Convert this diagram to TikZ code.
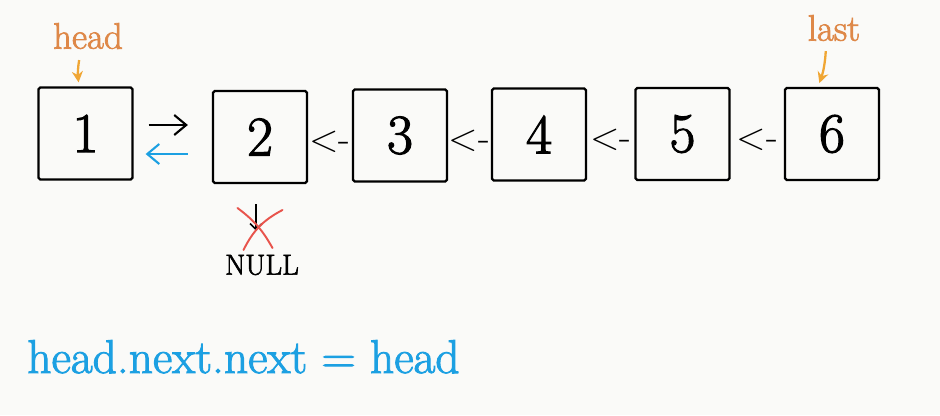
\documentclass[tikz,border=0pt]{standalone}
\usepackage{fontspec}
\newfontfamily\inkfont[FakeBold=2]{Latin Modern Roman}
\usepackage{xcolor}
\usepackage{tikz}
\usetikzlibrary{arrows.meta, positioning, calc}
\definecolor{ref_blue}{RGB}{28, 160, 226}
\definecolor{ptr_orange}{RGB}{222, 136, 72}
\definecolor{ptr_arrow}{RGB}{240, 166, 52}
\definecolor{cross_red}{RGB}{232, 84, 76}
\definecolor{bg_paper}{RGB}{250, 250, 248}

\begin{document}
\begin{tikzpicture}[
    listbox/.style={draw, line width=1.3pt, rounded corners=1pt, minimum width=1.88cm,
      minimum height=1.84cm, inner sep=0pt, font=\inkfont\fontsize{32}{36}\selectfont},
    ptrlabel/.style={font=\inkfont\fontsize{21}{24}\selectfont, text=ptr_orange},
    ptrarrow/.style={draw=ptr_arrow, line width=1.3pt, -{Stealth[length=2.2mm, width=2.2mm]}},
    revlink/.style={font=\fontsize{22}{26}\selectfont},
    linkarrow/.style={line width=1.2pt, -{Straight Barb[length=2.4mm, width=4mm]}},
    crossline/.style={draw=cross_red, line width=1.1pt, line cap=round}
  ]
        \fill[bg_paper] (0,0) rectangle (18.8,8.3);
        \useasboundingbox (0,0) rectangle (18.8,8.3);
        % the six boxes
        \foreach \i/\x/\y in {1/1.71/5.63, 2/5.20/5.56, 3/8.00/5.59, 4/10.78/5.61, 5/13.65/5.62, 6/16.64/5.62} {
          \node[listbox] (n\i) at (\x,\y) {\i};
        }
        \foreach \a/\b in {2/3, 3/4, 4/5, 5/6} {
          \node[revlink] (r\a) at ($(n\a.east)!0.5!(n\b.west)+(0,-0.12)$) {<-};
        }
        \draw[linkarrow, shorten <=0.3cm, shorten >=0.48cm]
          ([yshift=1.7mm]n1.east) -- ([yshift=1.7mm]n1.east -| n2.west);
        \draw[linkarrow, draw=ref_blue, shorten <=0.48cm, shorten >=0.24cm]
          ([yshift=-4.1mm]n1.east -| n2.west) -- ([yshift=-4.1mm]n1.east);
        % pointers
        \node[ptrlabel] (head) at (1.76,7.58) {head};
        \draw[ptrarrow, shorten <=1mm, shorten >=0.8mm]
          ([xshift=-1.6mm]head.south) to[bend right=8] ([xshift=-1.3mm]n1.north);
        \node[ptrlabel] (last) at (16.68,7.74) {last};
        \draw[ptrarrow, shorten <=0.8mm, shorten >=0.8mm]
          ([xshift=-1.6mm]last.south) to[bend left=8] ([xshift=-2.8mm]n6.north);
        % old link of 2, crossed out
        \node[font=\inkfont\fontsize{16.5}{19}\selectfont] (null) at (5.24,3.00) {NULL};
        \draw[line width=0.9pt, -{Straight Barb[length=1.2mm, width=2.4mm]}, shorten <=4mm, shorten >=3.6mm]
          ([xshift=-0.8mm]n2.south) -- ([xshift=-0.8mm]n2.south |- null.north);
        \coordinate (cross) at (5.19,3.74);
        \draw[crossline] ($(cross)+(-0.44,0.40)$) to[bend left=12] ($(cross)+(0.26,-0.40)$);
        \draw[crossline] ($(cross)+(-0.32,-0.44)$) to[bend left=18] ($(cross)+(0.46,0.36)$);
        \node[anchor=base west, inner sep=0pt, font=\inkfont\fontsize{27}{32}\selectfont, text=ref_blue]
          (code) at (0.54,0.84) {head.next.next = head};
      \end{tikzpicture}
\end{document}
